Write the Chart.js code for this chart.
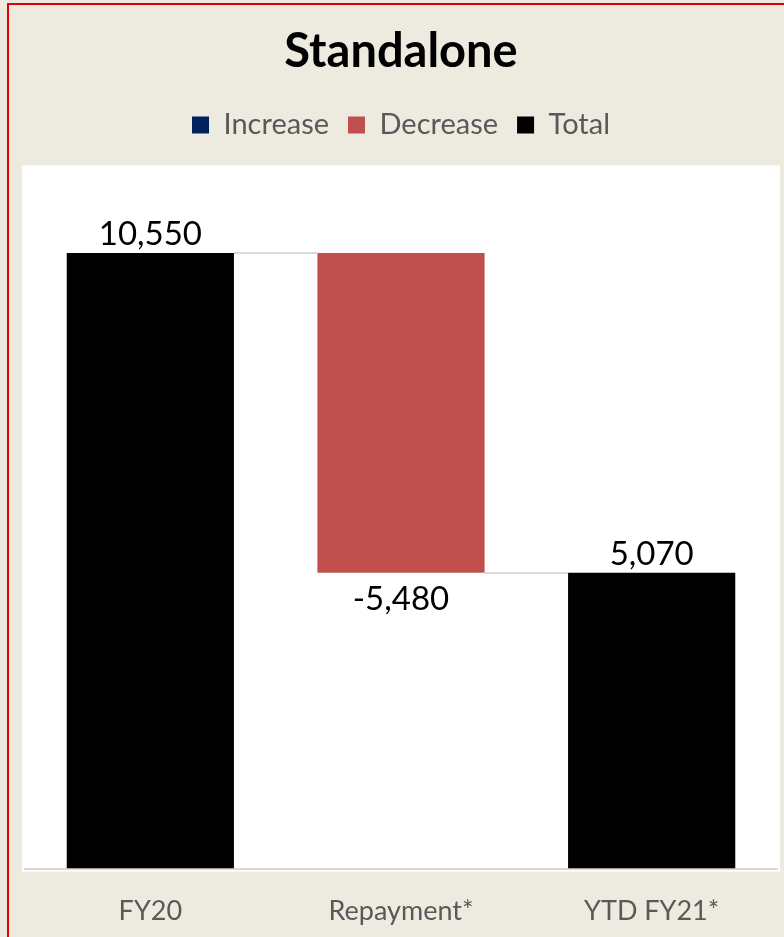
<!DOCTYPE html>
<html>
<head>
<meta charset="utf-8">
<script src="https://cdn.jsdelivr.net/npm/chart.js@4.4.0/dist/chart.umd.min.js"></script>
<style>
  html, body { margin: 0; padding: 0; background: #EDEADF; width: 784px; height: 937px; overflow: hidden; }
  #frame { position: absolute; left: 7px; top: 3px; width: 800px; height: 960px; border-left: 2px solid #e00000; border-top: 2px solid #e00000; pointer-events: none; box-sizing: border-box; }
  #wrap { position: absolute; left: 0; top: 0; width: 784px; height: 937px; }
  canvas { display: block; }
</style>
</head>
<body>
<div id="wrap"><canvas id="c" width="784" height="937"></canvas></div>
<div id="frame"></div>
<script>
// ---- data ----
const categories = ['FY20', 'Repayment*', 'YTD FY21*'];
const values = [10550, -5480, 5070];
const barTypes = ['total', 'decrease', 'total'];
const seriesNames = ['Increase', 'Decrease', 'Total'];
const seriesColors = ['#002060', '#C0504D', '#000000'];
const yMin = 0;
const yMax = 12000;

// build floating ranges for the waterfall
let running = 0;
const increaseData = [], decreaseData = [], totalData = [], endLevels = [];
categories.forEach((c, i) => {
  const v = values[i];
  const t = barTypes[i];
  if (t === 'total') {
    running = v;
    totalData.push([0, v]); increaseData.push(null); decreaseData.push(null);
  } else if (t === 'decrease') {
    decreaseData.push([running + v, running]); increaseData.push(null); totalData.push(null);
    running += v;
  } else {
    increaseData.push([running, running + v]); decreaseData.push(null); totalData.push(null);
    running += v;
  }
  endLevels.push(running);
});

const FONT = 'Lato, "Open Sans", sans-serif';

const whiteArea = {
  id: 'whiteArea',
  beforeDraw(chart) {
    const { ctx, chartArea: a } = chart;
    ctx.save();
    ctx.fillStyle = '#ffffff';
    ctx.fillRect(a.left - 3, a.top - 3, a.right - a.left + 6, a.bottom - a.top + 6);
    ctx.restore();
  }
};

const connectors = {
  id: 'connectors',
  afterDatasetsDraw(chart) {
    const { ctx } = chart;
    const y = chart.scales.y;
    const x = chart.scales.x;
    const metaTotal = chart.getDatasetMeta(2);
    const bw = metaTotal.data.find(e => e && e.width)?.width || 0;
    ctx.save();
    ctx.strokeStyle = '#d9d9d9';
    ctx.lineWidth = 2;
    for (let i = 0; i < categories.length - 1; i++) {
      const yy = Math.round(y.getPixelForValue(endLevels[i])) ;
      const x1 = x.getPixelForValue(i) + bw / 2;
      const x2 = x.getPixelForValue(i + 1) - bw / 2;
      ctx.beginPath();
      ctx.moveTo(x1, yy);
      ctx.lineTo(x2, yy);
      ctx.stroke();
    }
    ctx.restore();
  }
};

const valueLabels = {
  id: 'valueLabels',
  afterDatasetsDraw(chart) {
    const { ctx } = chart;
    const y = chart.scales.y;
    const x = chart.scales.x;
    ctx.save();
    ctx.font = '33px ' + FONT;
    ctx.fillStyle = '#000000';
    ctx.textAlign = 'center';
    categories.forEach((c, i) => {
      const v = values[i];
      const txt = v.toLocaleString('en-US');
      const cx = x.getPixelForValue(i);
      if (barTypes[i] === 'total' || barTypes[i] === 'increase') {
        const top = y.getPixelForValue(endLevels[i]);
        ctx.textBaseline = 'bottom';
        ctx.fillText(txt, cx, top - 2);
      } else {
        const bottom = y.getPixelForValue(endLevels[i]);
        ctx.textBaseline = 'top';
        ctx.fillText(txt, cx, bottom + 10);
      }
    });
    ctx.restore();
  }
};

const chart = new Chart(document.getElementById('c'), {
  type: 'bar',
  data: {
    labels: categories,
    datasets: [
      { label: seriesNames[0], data: increaseData, backgroundColor: seriesColors[0], grouped: false },
      { label: seriesNames[1], data: decreaseData, backgroundColor: seriesColors[1], grouped: false },
      { label: seriesNames[2], data: totalData, backgroundColor: seriesColors[2], grouped: false }
    ]
  },
  options: {
    responsive: false,
    animation: false,
    barPercentage: 0.667,
    categoryPercentage: 1,
    layout: { padding: { left: 25, right: 7, top: 0, bottom: -16 } },
    plugins: {
      title: {
        display: true,
        text: 'Standalone',
        color: '#000000',
        font: { family: FONT, size: 47, weight: 'bold' },
        padding: { top: 24, bottom: 11 }
      },
      legend: {
        display: true,
        labels: {
          color: '#595959',
          font: { family: FONT, size: 29 },
          boxWidth: 17,
          boxHeight: 17,
          padding: 19
        }
      },
      tooltip: { enabled: false }
    },
    scales: {
      x: {
        grid: { display: false, drawTicks: false },
        border: { display: true, color: '#d9d9d9', width: 2 },
        ticks: { color: '#595959', font: { family: FONT, size: 27 }, padding: 26 }
      },
      y: {
        display: false,
        min: yMin,
        max: yMax
      }
    }
  },
  plugins: [whiteArea, connectors, valueLabels]
});

// extra space between legend and plot area
const origFit = chart.legend.fit;
chart.legend.fit = function () { origFit.call(this); this.height += 19; };
chart.update();
</script>
</body>
</html>
